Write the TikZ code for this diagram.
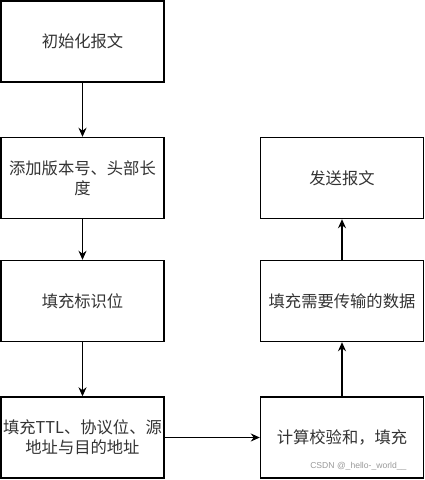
\documentclass[tikz,border=0pt]{standalone}
\usepackage{fontspec}
\setmainfont{Noto Sans CJK SC}
\newfontfamily\wmfont{Liberation Sans}
\usetikzlibrary{arrows.meta}
\begin{document}
\begin{tikzpicture}[x=1pt,y=-1pt,
  stepbox/.style={draw=black,line width=1.4pt,minimum width=163pt,minimum height=81pt,inner sep=0pt,align=center,text=black!80,font=\fontsize{16.3}{20}\selectfont},
  flow/.style={line width=1.4pt,-{Stealth[length=9pt,width=8pt]}}]
\useasboundingbox (0,0) rectangle (425,480);
\node[stepbox] (init) at (82.5,41.5) {初始化报文};
\node[stepbox] (ver) at (82.5,178) {添加版本号、头部长\\度};
\node[stepbox] (flag) at (82.5,301) {填充标识位};
\node[stepbox] (ttl) at (82.5,437.5) {填充TTL、协议位、源\\地址与目的地址};
\node[stepbox] (chk) at (342,437.5) {计算校验和，填充};
\node[stepbox] (data) at (342,301) {填充需要传输的数据};
\node[stepbox] (send) at (342,178) {发送报文};
\draw[flow] (init) -- (ver);
\draw[flow] (ver) -- (flag);
\draw[flow] (flag) -- (ttl);
\draw[flow] (ttl) -- (chk);
\draw[flow] (chk) -- (data);
\draw[flow] (data) -- (send);
\node[text=black!40,font=\wmfont\fontsize{8.6}{9}\selectfont,anchor=east] (wm) at (410,466) {CSDN @\_hello-\_world\_\_};
\end{tikzpicture}
\end{document}
